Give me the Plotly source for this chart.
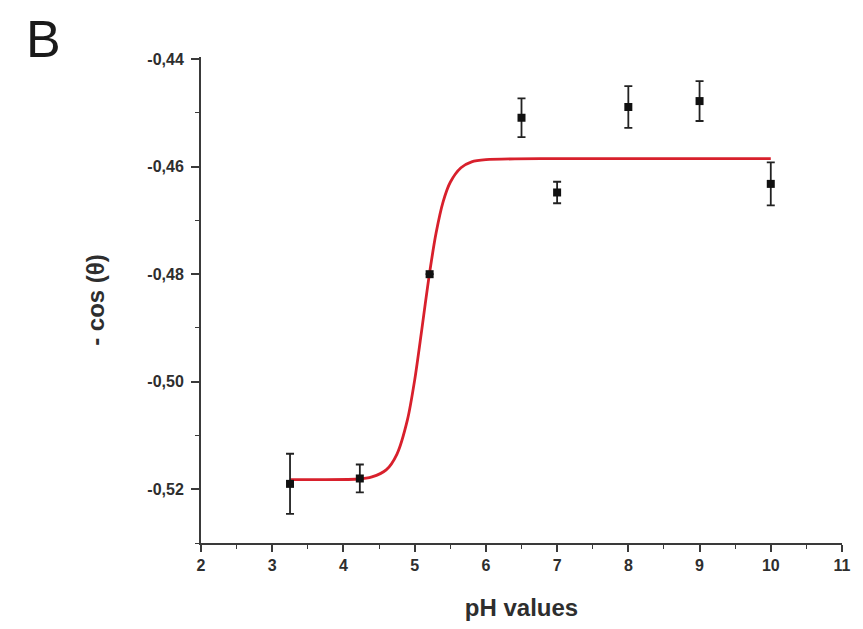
import plotly.graph_objects as go

# measured data
ph = [3.25, 4.23, 5.21, 6.5, 7.0, 8.0, 9.0, 10.0]
cos_vals = [-0.5190, -0.5180, -0.4800, -0.4509, -0.4648, -0.4489, -0.4478, -0.4632]
cos_err = [0.0056, 0.0026, 0.0, 0.0036, 0.0020, 0.0039, 0.0037, 0.0040]

# fitted curve
fit_x = [3.25, 4.2, 4.4, 4.6, 4.75, 4.9, 5.0, 5.1, 5.2, 5.3, 5.4, 5.5, 5.65, 5.8, 6.0, 7.0, 10.0]
fit_y = [-0.5182, -0.5181, -0.5177, -0.5164, -0.5135, -0.5070, -0.4997, -0.4903, -0.4806,
         -0.4724, -0.4665, -0.4629, -0.4602, -0.4591, -0.4587, -0.4585, -0.4585]

x_ticks = [2, 3, 4, 5, 6, 7, 8, 9, 10, 11]
x_ticktext = ["2", "3", "4", "5", "6", "7", "8", "9", "10", "11"]
y_ticks = [-0.44, -0.46, -0.48, -0.50, -0.52]
y_ticktext = ["-0,44", "-0,46", "-0,48", "-0,50", "-0,52"]

font = "Liberation Sans, Arial, sans-serif"
axcol = "#3a3a3a"
txtcol = "#2e2e2e"

fig = go.Figure()
fig.add_trace(go.Scatter(
    x=fit_x, y=fit_y, mode="lines",
    line=dict(color="#d8202c", width=2.8, shape="spline", smoothing=0.8),
    showlegend=False, hoverinfo="skip"))
fig.add_trace(go.Scatter(
    x=ph, y=cos_vals, mode="markers",
    marker=dict(symbol="square", size=8, color="#111111"),
    error_y=dict(type="data", array=cos_err, visible=True, color="#222222", thickness=1.8, width=4),
    showlegend=False))

fig.update_layout(
    width=863, height=629,
    margin=dict(l=193, r=29, t=49, b=94),
    paper_bgcolor="white", plot_bgcolor="white",
    font=dict(family=font, color=txtcol),
)
fig.add_annotation(text="B", xref="paper", yref="paper", x=-0.274, y=1.099,
                   xanchor="left", yanchor="top", showarrow=False, borderpad=0,
                   font=dict(family=font, size=52, color="#1a1a1a"))

fig.update_xaxes(
    range=[2, 11], tickmode="array", tickvals=x_ticks,
    ticktext=["<b>%s</b>" % t for t in x_ticktext],
    showline=True, linecolor=axcol, linewidth=2, mirror=False,
    ticks="outside", ticklen=7, tickwidth=1.5, tickcolor=axcol,
    minor=dict(ticks="outside", ticklen=4, tickwidth=1.2, tickcolor=axcol, dtick=0.5, tick0=2),
    showgrid=False, zeroline=False,
    tickfont=dict(family=font, size=16, color=txtcol),
    title=dict(text="<b>pH values</b>", font=dict(family=font, size=24, color=txtcol), standoff=26),
)
fig.update_yaxes(
    range=[-0.5300, -0.4396], tickmode="array", tickvals=y_ticks,
    ticktext=["<b>%s</b>" % t for t in y_ticktext],
    showline=True, linecolor=axcol, linewidth=2, mirror=False,
    ticks="outside", ticklen=8, tickwidth=1.5, tickcolor=axcol,
    ticklabelstandoff=4,
    minor=dict(ticks="outside", ticklen=4, tickwidth=1.2, tickcolor=axcol, dtick=0.01, tick0=-0.44),
    showgrid=False, zeroline=False,
    tickfont=dict(family=font, size=16, color=txtcol),
    title=dict(text="<b>- cos (θ)</b>", font=dict(family=font, size=24, color=txtcol), standoff=36),
)

fig.write_html("out.html")
